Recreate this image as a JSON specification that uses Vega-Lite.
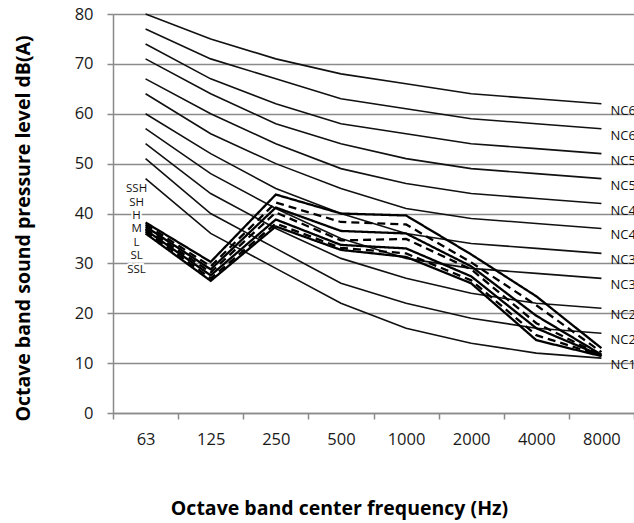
{
  "$schema": "https://vega.github.io/schema/vega-lite/v6.json",
  "autosize": {"type": "none"},
  "width": 521,
  "height": 399,
  "padding": {"left": 113, "top": 14, "right": 0, "bottom": 110},
  "background": "white",
  "config": {
    "font": "Open Sans",
    "view": {"stroke": null},
    "axis": {"labelFont": "Open Sans", "titleFont": "Open Sans", "labelColor": "#1a1a1a", "titleColor": "#000"}
  },
  "datasets": {
    "nc": [
      {"s": "NC15", "f": "63", "v": 47}, {"s": "NC15", "f": "125", "v": 36}, {"s": "NC15", "f": "250", "v": 29}, {"s": "NC15", "f": "500", "v": 22}, {"s": "NC15", "f": "1000", "v": 17}, {"s": "NC15", "f": "2000", "v": 14}, {"s": "NC15", "f": "4000", "v": 12}, {"s": "NC15", "f": "8000", "v": 11},
      {"s": "NC20", "f": "63", "v": 51}, {"s": "NC20", "f": "125", "v": 40}, {"s": "NC20", "f": "250", "v": 33}, {"s": "NC20", "f": "500", "v": 26}, {"s": "NC20", "f": "1000", "v": 22}, {"s": "NC20", "f": "2000", "v": 19}, {"s": "NC20", "f": "4000", "v": 17}, {"s": "NC20", "f": "8000", "v": 16},
      {"s": "NC25", "f": "63", "v": 54}, {"s": "NC25", "f": "125", "v": 44}, {"s": "NC25", "f": "250", "v": 37}, {"s": "NC25", "f": "500", "v": 31}, {"s": "NC25", "f": "1000", "v": 27}, {"s": "NC25", "f": "2000", "v": 24}, {"s": "NC25", "f": "4000", "v": 22}, {"s": "NC25", "f": "8000", "v": 21},
      {"s": "NC30", "f": "63", "v": 57}, {"s": "NC30", "f": "125", "v": 48}, {"s": "NC30", "f": "250", "v": 41}, {"s": "NC30", "f": "500", "v": 35}, {"s": "NC30", "f": "1000", "v": 31}, {"s": "NC30", "f": "2000", "v": 29}, {"s": "NC30", "f": "4000", "v": 28}, {"s": "NC30", "f": "8000", "v": 27},
      {"s": "NC35", "f": "63", "v": 60}, {"s": "NC35", "f": "125", "v": 52}, {"s": "NC35", "f": "250", "v": 45}, {"s": "NC35", "f": "500", "v": 40}, {"s": "NC35", "f": "1000", "v": 36}, {"s": "NC35", "f": "2000", "v": 34}, {"s": "NC35", "f": "4000", "v": 33}, {"s": "NC35", "f": "8000", "v": 32},
      {"s": "NC40", "f": "63", "v": 64}, {"s": "NC40", "f": "125", "v": 56}, {"s": "NC40", "f": "250", "v": 50}, {"s": "NC40", "f": "500", "v": 45}, {"s": "NC40", "f": "1000", "v": 41}, {"s": "NC40", "f": "2000", "v": 39}, {"s": "NC40", "f": "4000", "v": 38}, {"s": "NC40", "f": "8000", "v": 37},
      {"s": "NC45", "f": "63", "v": 67}, {"s": "NC45", "f": "125", "v": 60}, {"s": "NC45", "f": "250", "v": 54}, {"s": "NC45", "f": "500", "v": 49}, {"s": "NC45", "f": "1000", "v": 46}, {"s": "NC45", "f": "2000", "v": 44}, {"s": "NC45", "f": "4000", "v": 43}, {"s": "NC45", "f": "8000", "v": 42},
      {"s": "NC50", "f": "63", "v": 71}, {"s": "NC50", "f": "125", "v": 64}, {"s": "NC50", "f": "250", "v": 58}, {"s": "NC50", "f": "500", "v": 54}, {"s": "NC50", "f": "1000", "v": 51}, {"s": "NC50", "f": "2000", "v": 49}, {"s": "NC50", "f": "4000", "v": 48}, {"s": "NC50", "f": "8000", "v": 47},
      {"s": "NC55", "f": "63", "v": 74}, {"s": "NC55", "f": "125", "v": 67}, {"s": "NC55", "f": "250", "v": 62}, {"s": "NC55", "f": "500", "v": 58}, {"s": "NC55", "f": "1000", "v": 56}, {"s": "NC55", "f": "2000", "v": 54}, {"s": "NC55", "f": "4000", "v": 53}, {"s": "NC55", "f": "8000", "v": 52},
      {"s": "NC60", "f": "63", "v": 77}, {"s": "NC60", "f": "125", "v": 71}, {"s": "NC60", "f": "250", "v": 67}, {"s": "NC60", "f": "500", "v": 63}, {"s": "NC60", "f": "1000", "v": 61}, {"s": "NC60", "f": "2000", "v": 59}, {"s": "NC60", "f": "4000", "v": 58}, {"s": "NC60", "f": "8000", "v": 57},
      {"s": "NC65", "f": "63", "v": 80}, {"s": "NC65", "f": "125", "v": 75}, {"s": "NC65", "f": "250", "v": 71}, {"s": "NC65", "f": "500", "v": 68}, {"s": "NC65", "f": "1000", "v": 66}, {"s": "NC65", "f": "2000", "v": 64}, {"s": "NC65", "f": "4000", "v": 63}, {"s": "NC65", "f": "8000", "v": 62}
    ],
    "fan": [
      {"s": "SSH", "d": "solid", "f": "63", "v": 38.2}, {"s": "SSH", "d": "solid", "f": "125", "v": 30.3}, {"s": "SSH", "d": "solid", "f": "250", "v": 43.8}, {"s": "SSH", "d": "solid", "f": "500", "v": 40}, {"s": "SSH", "d": "solid", "f": "1000", "v": 39.6}, {"s": "SSH", "d": "solid", "f": "2000", "v": 31.8}, {"s": "SSH", "d": "solid", "f": "4000", "v": 23.4}, {"s": "SSH", "d": "solid", "f": "8000", "v": 13},
      {"s": "SH", "d": "dashed", "f": "63", "v": 37.8}, {"s": "SH", "d": "dashed", "f": "125", "v": 29.4}, {"s": "SH", "d": "dashed", "f": "250", "v": 42.2}, {"s": "SH", "d": "dashed", "f": "500", "v": 38.3}, {"s": "SH", "d": "dashed", "f": "1000", "v": 37.8}, {"s": "SH", "d": "dashed", "f": "2000", "v": 30.2}, {"s": "SH", "d": "dashed", "f": "4000", "v": 21.6}, {"s": "SH", "d": "dashed", "f": "8000", "v": 12.2},
      {"s": "H", "d": "solid", "f": "63", "v": 37.4}, {"s": "H", "d": "solid", "f": "125", "v": 28.8}, {"s": "H", "d": "solid", "f": "250", "v": 41.2}, {"s": "H", "d": "solid", "f": "500", "v": 36.5}, {"s": "H", "d": "solid", "f": "1000", "v": 36}, {"s": "H", "d": "solid", "f": "2000", "v": 29.4}, {"s": "H", "d": "solid", "f": "4000", "v": 19.5}, {"s": "H", "d": "solid", "f": "8000", "v": 11.7},
      {"s": "M", "d": "dashed", "f": "63", "v": 37}, {"s": "M", "d": "dashed", "f": "125", "v": 28.2}, {"s": "M", "d": "dashed", "f": "250", "v": 40.2}, {"s": "M", "d": "dashed", "f": "500", "v": 34.6}, {"s": "M", "d": "dashed", "f": "1000", "v": 34.9}, {"s": "M", "d": "dashed", "f": "2000", "v": 28.8}, {"s": "M", "d": "dashed", "f": "4000", "v": 18}, {"s": "M", "d": "dashed", "f": "8000", "v": 11.6},
      {"s": "L", "d": "solid", "f": "63", "v": 36.7}, {"s": "L", "d": "solid", "f": "125", "v": 27.6}, {"s": "L", "d": "solid", "f": "250", "v": 38.8}, {"s": "L", "d": "solid", "f": "500", "v": 33.7}, {"s": "L", "d": "solid", "f": "1000", "v": 33}, {"s": "L", "d": "solid", "f": "2000", "v": 27.4}, {"s": "L", "d": "solid", "f": "4000", "v": 17}, {"s": "L", "d": "solid", "f": "8000", "v": 11.5},
      {"s": "SL", "d": "dashed", "f": "63", "v": 36.4}, {"s": "SL", "d": "dashed", "f": "125", "v": 27}, {"s": "SL", "d": "dashed", "f": "250", "v": 38}, {"s": "SL", "d": "dashed", "f": "500", "v": 33.1}, {"s": "SL", "d": "dashed", "f": "1000", "v": 32}, {"s": "SL", "d": "dashed", "f": "2000", "v": 26.6}, {"s": "SL", "d": "dashed", "f": "4000", "v": 15.6}, {"s": "SL", "d": "dashed", "f": "8000", "v": 11.5},
      {"s": "SSL", "d": "solid", "f": "63", "v": 36}, {"s": "SSL", "d": "solid", "f": "125", "v": 26.5}, {"s": "SSL", "d": "solid", "f": "250", "v": 37.4}, {"s": "SSL", "d": "solid", "f": "500", "v": 32.7}, {"s": "SSL", "d": "solid", "f": "1000", "v": 31.3}, {"s": "SSL", "d": "solid", "f": "2000", "v": 26}, {"s": "SSL", "d": "solid", "f": "4000", "v": 14.6}, {"s": "SSL", "d": "solid", "f": "8000", "v": 11.4}
    ],
    "fanlab": [
      {"s": "SSH", "f": "63", "v": 44.9},
      {"s": "SH", "f": "63", "v": 42.2},
      {"s": "H", "f": "63", "v": 39.5},
      {"s": "M", "f": "63", "v": 36.8},
      {"s": "L", "f": "63", "v": 34.1},
      {"s": "SL", "f": "63", "v": 31.4},
      {"s": "SSL", "f": "63", "v": 28.7}
    ]
  },
  "encoding": {
    "x": {
      "field": "f", "type": "ordinal", "bandPosition": 0.5,
      "scale": {"type": "band", "domain": ["63", "125", "250", "500", "1000", "2000", "4000", "8000"], "paddingInner": 0, "paddingOuter": 0},
      "axis": {
        "title": "Octave band center frequency (Hz)", "titleFontSize": 19.5, "titleFontWeight": "bold",
        "titleX": 226, "titleY": 101, "titleBaseline": "alphabetic", "titleAnchor": null,
        "labelFontSize": 16.5, "labelPadding": 12, "labelAngle": 0,
        "tickBand": "extent", "tickSize": 6, "tickColor": "#8a8a8a", "tickWidth": 1.5,
        "domainColor": "#8a8a8a", "domainWidth": 1.5, "grid": false
      }
    },
    "y": {
      "field": "v", "type": "quantitative",
      "scale": {"domain": [0, 80], "nice": false, "zero": true},
      "axis": {
        "title": "Octave band sound pressure level dB(A)", "titleFontSize": 19.5, "titleFontWeight": "bold",
        "titleX": -90, "titleY": 214, "titleAngle": -90, "titleBaseline": "middle", "titleAlign": "center",
        "values": [0, 10, 20, 30, 40, 50, 60, 70, 80],
        "labelFontSize": 16.5, "labelPadding": 14, "tickSize": 6, "tickColor": "#8a8a8a", "tickWidth": 1.5,
        "domainColor": "#8a8a8a", "domainWidth": 1.5,
        "grid": true, "gridColor": "#8a8a8a", "gridWidth": 1.5
      }
    }
  },
  "layer": [
    {
      "data": {"name": "nc"},
      "mark": {"type": "line", "color": "#111", "strokeWidth": 1.6},
      "encoding": {"detail": {"field": "s"}}
    },
    {
      "data": {"name": "nc"},
      "transform": [{"filter": "datum.f == '8000'"}],
      "mark": {"type": "text", "align": "left", "baseline": "middle", "dx": 9, "dy": 7, "fontSize": 13, "color": "#111", "clip": true},
      "encoding": {"text": {"field": "s"}}
    },
    {
      "data": {"name": "fan"},
      "mark": {"type": "line", "color": "#000", "strokeWidth": 2.3},
      "encoding": {
        "detail": {"field": "s"},
        "strokeDash": {"field": "d", "type": "nominal", "scale": {"domain": ["solid", "dashed"], "range": [[1, 0], [8, 5]]}, "legend": null}
      }
    },
    {
      "data": {"name": "fanlab"},
      "mark": {"type": "text", "align": "center", "baseline": "middle", "dx": -9, "fontSize": 11.5, "stroke": "white", "strokeWidth": 4, "color": "white"},
      "encoding": {"text": {"field": "s"}}
    },
    {
      "data": {"name": "fanlab"},
      "mark": {"type": "text", "align": "center", "baseline": "middle", "dx": -9, "fontSize": 11.5, "color": "#111"},
      "encoding": {"text": {"field": "s"}}
    }
  ]
}
